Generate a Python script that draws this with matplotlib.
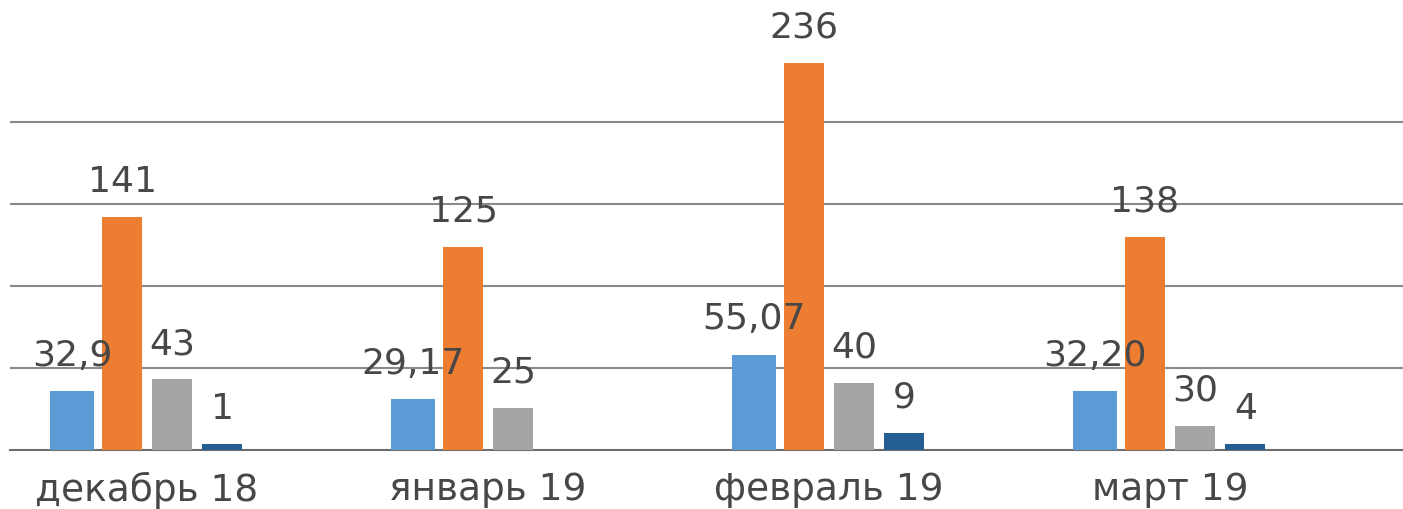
import matplotlib
matplotlib.use("Agg")
import matplotlib.pyplot as plt
import numpy as np

# Data
months = ["декабрь 18", "январь 19", "февраль 19", "март 19"]
blue_vals = [36, 31, 58, 36]
orange_vals = [142, 124, 236, 130]
gray_vals = [43, 25.5, 41, 14.5]
dark_vals = [3.5, np.nan, 10.5, 3.5]

blue_lbl = ["32,9", "29,17", "55,07", "32,20"]
orange_lbl = ["141", "125", "236", "138"]
gray_lbl = ["43", "25", "40", "30"]
dark_lbl = ["1", "", "9", "4"]

plt.rcParams['font.family'] = ['DejaVu Sans']
txt_col = "#474747"

fig = plt.figure(figsize=(14.03, 5.10), dpi=100)
ax = fig.add_axes([10 / 1403, 59 / 510, 1 - 10 / 1403, 410 / 510])

x = np.arange(len(months))
pitch = 0.147
width = 0.117
series = [
    (blue_vals, blue_lbl, "#5B9BD5", 0.127),
    (orange_vals, orange_lbl, "#ED7D31", width),
    (gray_vals, gray_lbl, "#A5A5A5", width),
    (dark_vals, dark_lbl, "#255E91", width),
]

for k, (vals, lbls, col, w) in enumerate(series):
    pos = x + (k - 1.5) * pitch
    ax.bar(pos, vals, width=w, color=col, zorder=3)
    for xi, v, t in zip(pos, vals, lbls):
        if t == "" or np.isnan(v):
            continue
        ax.annotate(t, (xi, v), xytext=(0, 19), textcoords="offset points",
                    ha="center", va="baseline", fontsize=26, color=txt_col,
                    zorder=5)

ax.set_xlim(-0.402, 3.683)
ax.set_ylim(0, 250)
ax.set_yticks([50, 100, 150, 200])
ax.yaxis.grid(True, color="#8a8a8a", linewidth=1.5, zorder=0)
ax.tick_params(axis="y", left=False, labelleft=False)
ax.set_xticks(x)
ax.set_xticklabels(months, fontsize=27, color=txt_col)
ax.tick_params(axis="x", length=0, pad=15)
for s in ["top", "right", "left"]:
    ax.spines[s].set_visible(False)
ax.spines["bottom"].set_color("#6e6e6e")
ax.spines["bottom"].set_linewidth(1.5)

fig.savefig("out.png", dpi=100)
